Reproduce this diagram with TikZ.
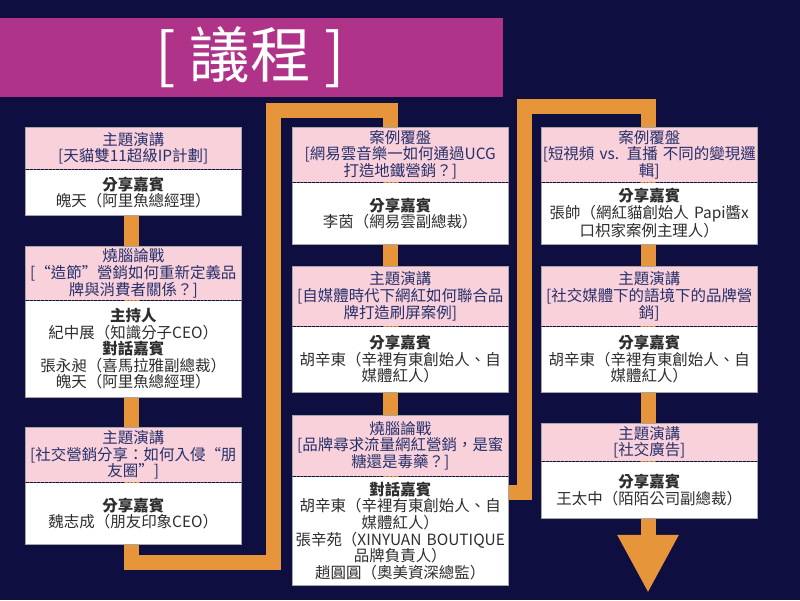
\documentclass[tikz,border=0pt]{standalone}
\usepackage{fontspec}
\setmainfont{Noto Sans CJK TC}
\usetikzlibrary{positioning,arrows.meta}

\newlength\pxu
\setlength\pxu{0.025cm}

\definecolor{bgnavy}{HTML}{0F0E40}
\definecolor{barpink}{HTML}{AF3489}
\definecolor{pathorange}{HTML}{E6953A}
\definecolor{headpink}{HTML}{F8D1DA}
\definecolor{headblue}{HTML}{27306B}
\definecolor{guestgrey}{HTML}{2E2E2E}

\tikzset{
  topic/.style={fill=headpink, text=headblue, text width=216\pxu, align=center,
    inner sep=0pt, anchor=north west, font=\fontsize{11}{11.8}\selectfont},
  guest/.style={fill=white, text=guestgrey, text width=216\pxu, align=center,
    inner sep=0pt, font=\fontsize{11}{11.8}\selectfont},
  boxline/.style={draw=black!35, line width=0.6pt},
  sepline/.style={draw=black!60, dotted, line width=0.7pt},
  snake/.style={draw=pathorange, line width=15\pxu, line join=miter,
    -{Triangle[width=1.425cm, length=1.45cm]}}
}

\begin{document}
\begin{tikzpicture}[x=0.025cm, y=-0.025cm]
  % background and title bar
  \fill[bgnavy] (0,0) rectangle (800,600);
  \fill[barpink] (0,18) rectangle (503,97);
  \node[text=white, font=\fontsize{43}{43}\selectfont] (title) at (250,57) {[ 議程 ]};

  % orange route
  \draw[snake] (131,200) -- (131,562) -- (273,562) -- (273,111) -- (390,111)
    -- (390,492) -- (524,492) -- (524,107) -- (648,107) -- (648,593);

  % left column
  \node[topic, minimum height=42\pxu] (hd1) at (25,127) {主題演講\\{}[天貓雙11超級IP計劃]};
  \node[guest, minimum height=45\pxu, below=0pt of hd1] (bd1) {\textbf{分享嘉賓}\\魄天（阿里魚總經理）};

  \node[topic, minimum height=54\pxu] (hd2) at (25,246) {燒腦論戰\\{}[“造節”營銷如何重新定義品\\牌與消費者關係？]};
  \node[guest, minimum height=96\pxu, below=0pt of hd2] (bd2) {\textbf{主持人}\\紀中展（知識分子CEO）\\\textbf{對話嘉賓}\\張永昶（喜馬拉雅副總裁）\\魄天（阿里魚總經理）};

  \node[topic, minimum height=55\pxu] (hd3) at (25,427) {主題演講\\{}[社交營銷分享：如何入侵“朋\\友圈”]};
  \node[guest, minimum height=61\pxu, below=0pt of hd3] (bd3) {\textbf{分享嘉賓}\\魏志成（朋友印象CEO）};

  % middle column
  \node[topic, minimum height=55\pxu] (hd4) at (292,127) {案例覆盤\\{}[網易雲音樂一如何通過UCG\\打造地鐵營銷？]};
  \node[guest, minimum height=61\pxu, below=0pt of hd4] (bd4) {\textbf{分享嘉賓}\\李茵（網易雲副總裁）};

  \node[topic, minimum height=60\pxu] (hd5) at (292,266) {主題演講\\{}[自媒體時代下網紅如何聯合品\\牌打造刷屏案例]};
  \node[guest, minimum height=65\pxu, below=0pt of hd5] (bd5) {\textbf{分享嘉賓}\\胡辛東（辛裡有東創始人、自\\媒體紅人）};

  \node[topic, minimum height=61\pxu] (hd6) at (292,415) {燒腦論戰\\{}[品牌尋求流量網紅營銷，是蜜\\糖還是毒藥？]};
  \node[guest, minimum height=108\pxu, below=0pt of hd6] (bd6) {\textbf{對話嘉賓}\\胡辛東（辛裡有東創始人、自\\媒體紅人）\\張辛苑（XINYUAN BOUTIQUE\\品牌負責人）\\趙圓圓（奧美資深總監）};

  % right column
  \node[topic, minimum height=55\pxu] (hd7) at (541,127) {案例覆盤\\{}[短視頻 vs. 直播 不同的變現邏\\輯]};
  \node[guest, minimum height=61\pxu, below=0pt of hd7] (bd7) {\textbf{分享嘉賓}\\張帥（網紅貓創始人 Papi醬x\\口枳家案例主理人）};

  \node[topic, minimum height=60\pxu] (hd8) at (541,266) {主題演講\\{}[社交媒體下的語境下的品牌營\\銷]};
  \node[guest, minimum height=65\pxu, below=0pt of hd8] (bd8) {\textbf{分享嘉賓}\\胡辛東（辛裡有東創始人、自\\媒體紅人）};

  \node[topic, minimum height=38\pxu] (hd9) at (541,423) {主題演講\\{}[社交廣告]};
  \node[guest, minimum height=56\pxu, below=0pt of hd9] (bd9) {\textbf{分享嘉賓}\\王太中（陌陌公司副總裁）};

  % frames and dotted splits
  \foreach \i in {1,...,9}{
    \draw[boxline] (hd\i.north west) rectangle (bd\i.south east);
    \draw[sepline] (bd\i.north west) -- (bd\i.north east);
  }
\end{tikzpicture}
\end{document}
